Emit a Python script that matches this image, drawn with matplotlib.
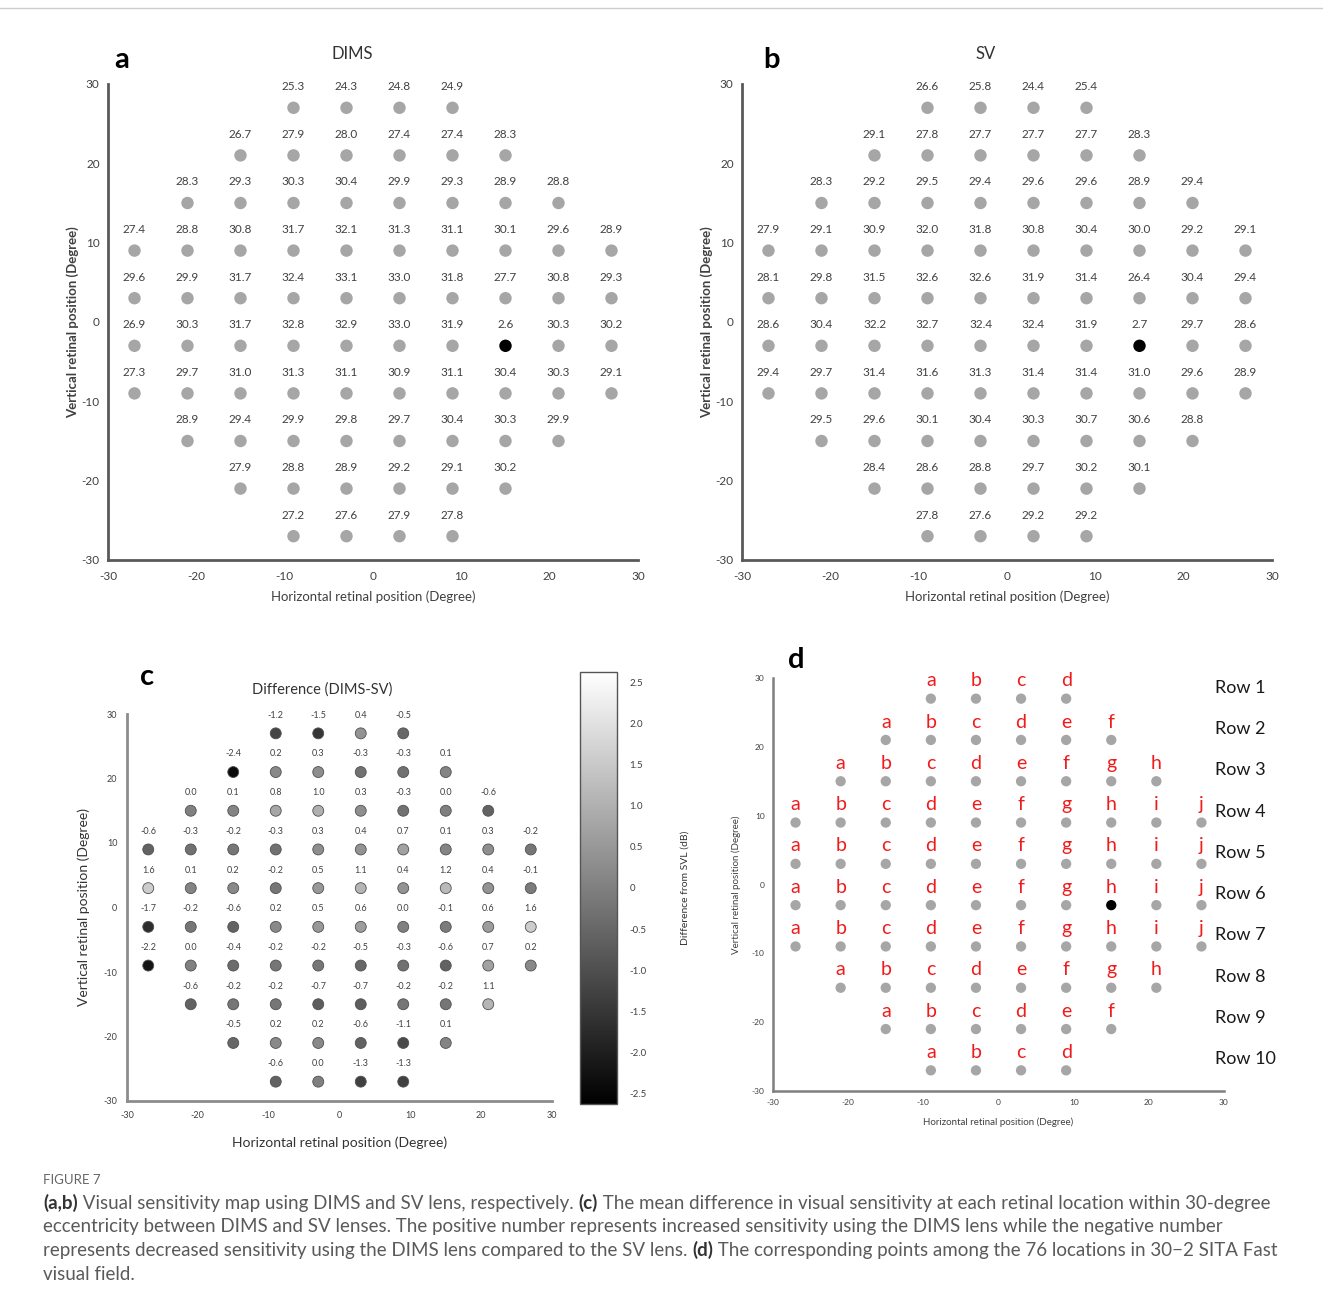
import numpy as np
import matplotlib
matplotlib.use("Agg")
import matplotlib.pyplot as plt
from matplotlib.colors import Normalize

plt.rcParams['font.family'] = ['Lato', 'DejaVu Sans']
plt.rcParams['axes.unicode_minus'] = False

# 30-2 grid: row centres (deg) and x positions of each row
row_y = [27, 21, 15, 9, 3, -3, -9, -15, -21, -27]
row_x = [
    [-9, -3, 3, 9],
    [-15, -9, -3, 3, 9, 15],
    [-21, -15, -9, -3, 3, 9, 15, 21],
    [-27, -21, -15, -9, -3, 3, 9, 15, 21, 27],
    [-27, -21, -15, -9, -3, 3, 9, 15, 21, 27],
    [-27, -21, -15, -9, -3, 3, 9, 15, 21, 27],
    [-27, -21, -15, -9, -3, 3, 9, 15, 21, 27],
    [-21, -15, -9, -3, 3, 9, 15, 21],
    [-15, -9, -3, 3, 9, 15],
    [-9, -3, 3, 9],
]
blind_spot = (15, -3)

dims = [
    [25.3, 24.3, 24.8, 24.9],
    [26.7, 27.9, 28.0, 27.4, 27.4, 28.3],
    [28.3, 29.3, 30.3, 30.4, 29.9, 29.3, 28.9, 28.8],
    [27.4, 28.8, 30.8, 31.7, 32.1, 31.3, 31.1, 30.1, 29.6, 28.9],
    [29.6, 29.9, 31.7, 32.4, 33.1, 33.0, 31.8, 27.7, 30.8, 29.3],
    [26.9, 30.3, 31.7, 32.8, 32.9, 33.0, 31.9, 2.6, 30.3, 30.2],
    [27.3, 29.7, 31.0, 31.3, 31.1, 30.9, 31.1, 30.4, 30.3, 29.1],
    [28.9, 29.4, 29.9, 29.8, 29.7, 30.4, 30.3, 29.9],
    [27.9, 28.8, 28.9, 29.2, 29.1, 30.2],
    [27.2, 27.6, 27.9, 27.8],
]
sv = [
    [26.6, 25.8, 24.4, 25.4],
    [29.1, 27.8, 27.7, 27.7, 27.7, 28.3],
    [28.3, 29.2, 29.5, 29.4, 29.6, 29.6, 28.9, 29.4],
    [27.9, 29.1, 30.9, 32.0, 31.8, 30.8, 30.4, 30.0, 29.2, 29.1],
    [28.1, 29.8, 31.5, 32.6, 32.6, 31.9, 31.4, 26.4, 30.4, 29.4],
    [28.6, 30.4, 32.2, 32.7, 32.4, 32.4, 31.9, 2.7, 29.7, 28.6],
    [29.4, 29.7, 31.4, 31.6, 31.3, 31.4, 31.4, 31.0, 29.6, 28.9],
    [29.5, 29.6, 30.1, 30.4, 30.3, 30.7, 30.6, 28.8],
    [28.4, 28.6, 28.8, 29.7, 30.2, 30.1],
    [27.8, 27.6, 29.2, 29.2],
]
diff = [
    [-1.2, -1.5, 0.4, -0.5],
    [-2.4, 0.2, 0.3, -0.3, -0.3, 0.1],
    [0.0, 0.1, 0.8, 1.0, 0.3, -0.3, 0.0, -0.6],
    [-0.6, -0.3, -0.2, -0.3, 0.3, 0.4, 0.7, 0.1, 0.3, -0.2],
    [1.6, 0.1, 0.2, -0.2, 0.5, 1.1, 0.4, 1.2, 0.4, -0.1],
    [-1.7, -0.2, -0.6, 0.2, 0.5, 0.6, 0.0, -0.1, 0.6, 1.6],
    [-2.2, 0.0, -0.4, -0.2, -0.2, -0.5, -0.3, -0.6, 0.7, 0.2],
    [-0.6, -0.2, -0.2, -0.7, -0.7, -0.2, -0.2, 1.1],
    [-0.5, 0.2, 0.2, -0.6, -1.1, 0.1],
    [-0.6, 0.0, -1.3, -1.3],
]
letters = "abcdefghij"
row_names = ["Row %d" % (i + 1) for i in range(10)]
cbar_ticks = [2.5, 2.0, 1.5, 1.0, 0.5, 0, -0.5, -1.0, -1.5, -2.0, -2.5]
cbar_labels = ["2.5", "2.0", "1.5", "1.0", "0.5", "0", "-0.5", "-1.0", "-1.5", "-2.0", "-2.5"]

W, H = 1323, 1309
fig = plt.figure(figsize=(W / 100, H / 100), dpi=100)


def px_axes(x0, x1, y0, y1):
    # axes from pixel coords (x0,x1 left/right of data range, y0 top, y1 bottom)
    return fig.add_axes([x0 / W, 1 - y1 / H, (x1 - x0) / W, (y1 - y0) / H])


def style_axes(ax, spine_col, lw, tick_size, tick_pad):
    ax.set_xlim(-30, 30)
    ax.set_ylim(-30, 30)
    ax.set_xticks(range(-30, 31, 10))
    ax.set_yticks(range(-30, 31, 10))
    for s in ['top', 'right']:
        ax.spines[s].set_visible(False)
    for s in ['left', 'bottom']:
        ax.spines[s].set_color(spine_col)
        ax.spines[s].set_linewidth(lw)
    ax.tick_params(length=0, labelsize=tick_size, colors='#404040', pad=tick_pad)


def flat(rows):
    xs, ys, vs = [], [], []
    for i, r in enumerate(rows):
        for j, v in enumerate(r):
            xs.append(row_x[i][j])
            ys.append(row_y[i])
            vs.append(v)
    return np.array(xs), np.array(ys), vs


# ---- panels a and b
for data, title, letter, x0 in [(dims, "DIMS", "a", 108), (sv, "SV", "b", 742)]:
    ax = px_axes(x0, x0 + 530, 84, 560)
    style_axes(ax, '#595959', 2.0, 8.5, 8)
    ax.tick_params(axis='y', pad=6)
    xs, ys, vs = flat(data)
    cols = ['black' if (x, y) == blind_spot else '#a6a6a6' for x, y in zip(xs, ys)]
    ax.scatter(xs, ys, s=80, c=cols, linewidths=0, clip_on=False, zorder=3)
    for x, y, v in zip(xs, ys, vs):
        ax.text(x, y + 2.65, "%.1f" % v, ha='center', va='center', fontsize=8.5, color='#404040')
    ax.set_xlabel("Horizontal retinal position (Degree)", fontsize=9.5, color='#404040', labelpad=6)
    ax.set_ylabel("Vertical retinal position (Degree)", fontsize=9.5, color='#404040',
                  fontweight='bold', labelpad=2)
    ax.text(0.46, 1.063, title, transform=ax.transAxes, ha='center', va='center',
            fontsize=12, color='#333333')
    ax.text(0.026 if letter == 'a' else 0.055, 1.05, letter, transform=ax.transAxes,
            ha='center', va='center', fontsize=21, fontweight='bold')

# ---- panel c
norm = Normalize(vmin=-2.63, vmax=2.63)
axc = px_axes(127, 552, 714, 1101)
style_axes(axc, '#8c8c8c', 2.0, 6.5, 7)
xs, ys, vs = flat(diff)
sc = axc.scatter(xs, ys, s=62, c=vs, cmap='gray', norm=norm, edgecolors='#505050',
                 linewidths=0.6, clip_on=False, zorder=3)
for x, y, v in zip(xs, ys, vs):
    axc.text(x, y + 2.8, "%.1f" % v, ha='center', va='center', fontsize=6.5, color='#404040')
axc.set_xlabel("Horizontal retinal position (Degree)", fontsize=10, color='#333333', labelpad=12)
axc.set_ylabel("Vertical retinal position (Degree)", fontsize=10, color='#333333', labelpad=10)
axc.text(0.459, 1.062, "Difference (DIMS-SV)", transform=axc.transAxes, ha='center',
         va='center', fontsize=10.5, color='#333333')
axc.text(0.047, 1.096, "c", transform=axc.transAxes, ha='center', va='center',
         fontsize=21, fontweight='bold')

cax = px_axes(580, 617, 672, 1104)
cb = fig.colorbar(sc, cax=cax, ticks=cbar_ticks)
cb.ax.set_yticklabels(cbar_labels)
cb.ax.tick_params(length=0, labelsize=7, colors='#404040', pad=9)
cb.outline.set_edgecolor('#555555')
cb.outline.set_linewidth(1.0)
cb.set_label("Difference from SVL (dB)", fontsize=7.5, color='#333333', labelpad=24)

# ---- panel d
axd = px_axes(773, 1224, 678, 1091)
style_axes(axd, '#7f7f7f', 1.8, 6, 6)
for i, r in enumerate(row_x):
    y = row_y[i]
    cols = ['black' if (x, y) == blind_spot else '#a6a6a6' for x in r]
    axd.scatter(r, [y] * len(r), s=55, c=cols, linewidths=0, clip_on=False, zorder=3)
    for j, x in enumerate(r):
        axd.text(x, y + 2.6, letters[j], ha='center', va='center', fontsize=14, color='#ee1c1c')
    axd.text(28.8, y + 1.6, row_names[i], ha='left', va='center', fontsize=13,
             color='#1a1a1a', clip_on=False)
axd.set_xlabel("Horizontal retinal position (Degree)", fontsize=7, color='#404040', labelpad=8)
axd.set_ylabel("Vertical retinal position (Degree)", fontsize=7, color='#404040', labelpad=8)
axd.text(0.051, 1.044, "d", transform=axd.transAxes, ha='center', va='center',
         fontsize=21, fontweight='bold')

# ---- caption
fig.text(43 / W, 1 - 1180 / H, "FIGURE 7", fontsize=9.5, color='#666666', va='center')
cap_lines = [
    [("(a,b)", 'bold'), (" Visual sensitivity map using DIMS and SV lens, respectively. ", 'normal'),
     ("(c)", 'bold'), (" The mean difference in visual sensitivity at each retinal location within 30-degree", 'normal')],
    [("eccentricity between DIMS and SV lenses. The positive number represents increased sensitivity using the DIMS lens while the negative number", 'normal')],
    [("represents decreased sensitivity using the DIMS lens compared to the SV lens. ", 'normal'),
     ("(d)", 'bold'), (" The corresponding points among the 76 locations in 30\u22122 SITA Fast", 'normal')],
    [("visual field.", 'normal')],
]
renderer = fig.canvas.get_renderer()
for k, line in enumerate(cap_lines):
    xpix = 43
    ypix = 1203 + k * 23.7
    for txt, wt in line:
        t = fig.text(xpix / W, 1 - ypix / H, txt, fontsize=13.5, fontweight=wt,
                     color='#333333' if wt == 'bold' else '#5a5a5a', va='center', ha='left')
        bb = t.get_window_extent(renderer)
        xpix += bb.width

# thin frame line at the top
fig.add_artist(plt.Line2D([0, 1], [1 - 8 / H, 1 - 8 / H], color='#cccccc', lw=1))

fig.savefig("out.png", dpi=100)
